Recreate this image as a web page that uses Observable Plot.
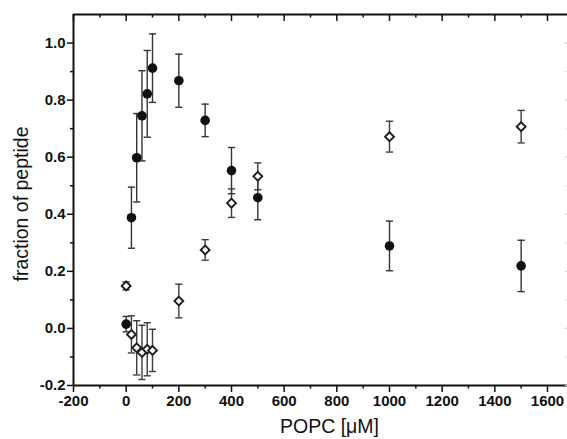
<!DOCTYPE html>
<html>
<head>
<meta charset="utf-8">
<script src="https://cdn.jsdelivr.net/npm/d3@7"></script>
<script src="https://cdn.jsdelivr.net/npm/@observablehq/plot@0.6"></script>
<style>
  html, body { margin: 0; padding: 0; background: #fff; }
  #chart svg { display: block; }
  #chart svg text { font-weight: 700; }
  #chart svg g.title text { font-weight: 400; }
</style>
</head>
<body>
<div id="chart"></div>
<script>
// ---- data ----
const circX   = [0, 20, 40, 60, 80, 100, 200, 300, 400, 500, 1000, 1500];
const circY   = [0.015, 0.388, 0.598, 0.745, 0.822, 0.912, 0.868, 0.729, 0.553, 0.458, 0.289, 0.219];
const circErr = [0.027, 0.107, 0.155, 0.158, 0.152, 0.120, 0.093, 0.057, 0.081, 0.077, 0.087, 0.090];

const diaX   = [0, 20, 40, 60, 80, 100, 200, 300, 400, 500, 1000, 1500];
const diaY   = [0.149, -0.021, -0.068, -0.084, -0.073, -0.077, 0.096, 0.275, 0.439, 0.533, 0.672, 0.707];
const diaErr = [0.014, 0.065, 0.095, 0.095, 0.093, 0.074, 0.059, 0.036, 0.050, 0.047, 0.054, 0.057];

const xMajor = [-200, 0, 200, 400, 600, 800, 1000, 1200, 1400, 1600];
const xMinor = [-100, 100, 300, 500, 700, 900, 1100, 1300, 1500];
const yMajor = [-0.2, 0.0, 0.2, 0.4, 0.6, 0.8, 1.0];
const yMinor = [-0.1, 0.1, 0.3, 0.5, 0.7, 0.9];
const xDomain = [-200, 1676];
const yDomain = [-0.2, 1.1];
const xLabel = "POPC [μM]";
const yLabel = "fraction of peptide";

// ---- build tables ----
const circles = circX.map((x, i) => ({x, y: circY[i], e: circErr[i]}));
const diamonds = diaX.map((x, i) => ({x, y: diaY[i], e: diaErr[i]}));

const W = 567, H = 439, mT = 14, mB = 54, mL = 73, mR = 0;
const innerH = H - mT - mB;
const innerW = W - mL - mR;

const capSymbol = {
  draw(ctx, size) {
    const w = Math.sqrt(size / Math.PI);
    ctx.moveTo(-w, 0);
    ctx.lineTo(w, 0);
  }
};

function errMarks(data, color) {
  return [
    Plot.ruleX(data, {x: "x", y1: d => d.y - d.e, y2: d => d.y + d.e, stroke: color, strokeWidth: 1.4}),
    Plot.dot(data, {x: "x", y: d => d.y - d.e, symbol: capSymbol, r: 3.6, stroke: color, strokeWidth: 1.4, fill: "none"}),
    Plot.dot(data, {x: "x", y: d => d.y + d.e, symbol: capSymbol, r: 3.6, stroke: color, strokeWidth: 1.4, fill: "none"})
  ];
}

const fmtY = d => d.toFixed(1);
const fmtX = d => String(d);

const plot = Plot.plot({
  width: W,
  height: H,
  marginTop: mT,
  marginBottom: mB,
  marginLeft: mL,
  marginRight: mR,
  style: {fontFamily: "Arial, 'Liberation Sans', sans-serif", fontSize: "15px", color: "#111", background: "#fff"},
  x: {domain: xDomain},
  y: {domain: yDomain},
  marks: [
    // frame lines (top, left, bottom)
    Plot.ruleY([yDomain[1]], {stroke: "#111", strokeWidth: 2}),
    Plot.ruleX([xDomain[0]], {stroke: "#111", strokeWidth: 2}),
    Plot.ruleY([yDomain[0]], {stroke: "#111", strokeWidth: 2}),
    // bottom axis
    Plot.axisX(xMajor, {anchor: "bottom", tickSize: 7, tickPadding: 3, tickFormat: fmtX, label: null, fontSize: 15, stroke: "#111", strokeWidth: 1.5}),
    Plot.axisX(xMinor, {anchor: "bottom", tickSize: 3.5, tickFormat: () => "", label: null, stroke: "#111", strokeWidth: 1.5}),
    // top inward ticks
    Plot.tickX(xMajor, {x: d => d, insetBottom: innerH - 7, stroke: "#111", strokeWidth: 1.5}),
    Plot.tickX(xMinor, {x: d => d, insetBottom: innerH - 3.5, stroke: "#111", strokeWidth: 1.5}),
    // left axis
    Plot.axisY(yMajor, {anchor: "left", tickSize: 6, tickPadding: 2, tickFormat: fmtY, label: null, fontSize: 15, stroke: "#111", strokeWidth: 1.5}),
    Plot.axisY(yMinor, {anchor: "left", tickSize: 3, tickFormat: () => "", label: null, stroke: "#111", strokeWidth: 1.5}),
    // right inward ticks (faint, frame edge off-canvas)
    Plot.tickY(yMajor, {y: d => d, insetLeft: innerW - 2, stroke: "#ccc", strokeWidth: 1.2}),
    Plot.tickY(yMinor, {y: d => d, insetLeft: innerW - 2, stroke: "#e2e2e2", strokeWidth: 1.2}),
    // error bars
    ...errMarks(circles, "#333"),
    ...errMarks(diamonds, "#3c3c3c"),
    // points
    Plot.dot(circles, {x: "x", y: "y", r: 4.8, fill: "#111", stroke: "none"}),
    Plot.dot(diamonds, {x: "x", y: "y", symbol: "diamond2", r: 4.0, fill: "#fff", stroke: "#1e1e1e", strokeWidth: 1.9}),
    // axis titles
    Plot.text([xLabel], {frameAnchor: "bottom", text: d => d, textAnchor: "middle", dx: 9, dy: 41, lineAnchor: "middle", fontSize: 19.5, fill: "#111", className: "title"}),
    Plot.text([yLabel], {frameAnchor: "left", text: d => d, rotate: -90, textAnchor: "middle", dx: -52, dy: 4, lineAnchor: "middle", fontSize: 19.5, fill: "#111", className: "title"})
  ]
});

document.getElementById("chart").appendChild(plot);
</script>
</body>
</html>
